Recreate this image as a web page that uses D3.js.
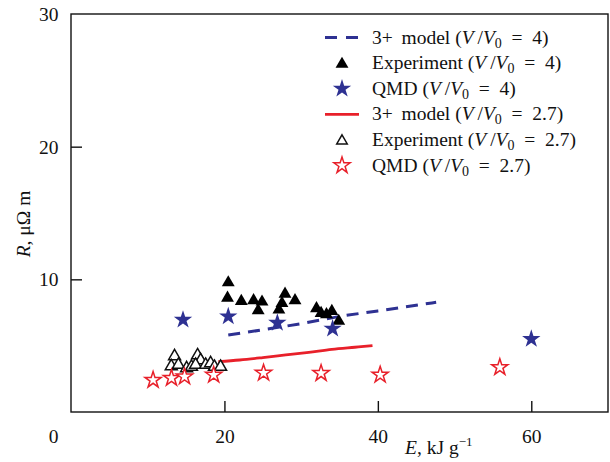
<!DOCTYPE html>
<html>
<head>
<meta charset="utf-8">
<script src="https://cdn.jsdelivr.net/npm/d3@7"></script>
<style>
  body { margin: 0; background: #fff; }
  text { font-family: "Liberation Serif", "Times New Roman", serif; font-size: 19.5px; fill: #111; }
</style>
</head>
<body>
<svg id="chart" width="610" height="462"></svg>
<script>
// --- data ---
var model4E = [20.5, 25, 30, 35, 40, 47.6];
var model4R = [5.8, 6.2, 6.66, 7.2, 7.62, 8.27];

var model27E = [19.2, 22, 25, 28, 31, 34, 37, 39.3];
var model27R = [3.8, 3.92, 4.1, 4.3, 4.5, 4.72, 4.88, 5.0];

var exp4E = [20.5, 20.4, 22.2, 23.8, 24.4, 24.9, 27.9, 27.5, 27.1, 29.2, 32.0, 32.6, 33.3, 34.0, 34.9];
var exp4R = [9.75, 8.6, 8.35, 8.4, 7.65, 8.3, 8.9, 8.2, 7.7, 8.4, 7.8, 7.45, 7.35, 7.6, 6.85];

var exp27E = [13.5, 13.07, 14.0, 15.07, 15.7, 16.5, 16.9, 16.24, 17.55, 18.2, 18.7, 19.5];
var exp27R = [4.2, 3.45, 3.55, 3.3, 3.4, 4.27, 3.9, 3.55, 3.55, 3.68, 3.4, 3.4];

var qmd4E = [14.6, 20.5, 26.9, 34.1, 60.0];
var qmd4R = [6.95, 7.2, 6.72, 6.28, 5.5];

var qmd27E = [10.7, 13.1, 14.8, 18.6, 25.1, 32.6, 40.3, 55.9];
var qmd27R = [2.41, 2.56, 2.66, 2.79, 2.94, 2.92, 2.8, 3.37];

var xTicks = [0, 20, 40, 60];
var yTicks = [10, 20, 30];

var blue = "#2e3192", red = "#e8202a";

var svg = d3.select("#chart");

var x = d3.scaleLinear().domain([0, 70]).range([71, 608]);
var y = d3.scaleLinear().domain([0, 30]).range([412, 14]);

function zip(a, b) { return a.map(function (v, i) { return [v, b[i]]; }); }

// frame
svg.append("rect")
    .attr("x", x(0)).attr("y", y(30))
    .attr("width", x(70) - x(0)).attr("height", y(0) - y(30))
    .attr("fill", "none").attr("stroke", "#111").attr("stroke-width", 1.4);

// x axis (ticks point inward)
var xAxis = svg.append("g")
    .attr("transform", "translate(0," + y(0) + ")")
    .call(d3.axisBottom(x).tickValues(xTicks).tickSize(-11).tickFormat(d3.format("d")));
xAxis.select(".domain").remove();
xAxis.selectAll(".tick line").attr("stroke", "#111").attr("stroke-width", 1.4)
    .filter(function (d) { return d === 0; }).remove();
xAxis.selectAll(".tick text")
    .attr("y", 0).attr("dy", 31)
    .style("font-size", "19.5px").style("font-family", "Liberation Serif").attr("fill", "#111")
    .attr("dx", function (d) { return d === 0 ? -18 : 0; });

// y axis
var yAxis = svg.append("g")
    .attr("transform", "translate(" + x(0) + ",0)")
    .call(d3.axisLeft(y).tickValues(yTicks).tickSize(-11).tickFormat(d3.format("d")));
yAxis.select(".domain").remove();
yAxis.selectAll(".tick line").attr("stroke", "#111").attr("stroke-width", 1.4)
    .filter(function (d) { return d === 30; }).remove();
yAxis.selectAll(".tick text")
    .attr("x", -12.5).attr("dy", "0.34em")
    .style("font-size", "19.5px").style("font-family", "Liberation Serif").attr("fill", "#111");

// axis titles
var yt = svg.append("text")
    .attr("transform", "translate(30,224) rotate(-90)")
    .attr("text-anchor", "middle");
yt.append("tspan").attr("font-style", "italic").text("R");
yt.append("tspan").text(", \u03bc\u03a9 m");

var xt = svg.append("text").attr("x", 405).attr("y", 454);
xt.append("tspan").attr("font-style", "italic").text("E");
xt.append("tspan").text(", kJ g");
xt.append("tspan").attr("dy", -8).style("font-size", "13px").text("\u22121");

// model curves
var line = d3.line().x(function (d) { return x(d[0]); }).y(function (d) { return y(d[1]); })
    .curve(d3.curveMonotoneX);

svg.append("path").datum(zip(model27E, model27R))
    .attr("d", line).attr("fill", "none").attr("stroke", red).attr("stroke-width", 2.8);

svg.append("path").datum(zip(model4E, model4R))
    .attr("d", line).attr("fill", "none").attr("stroke", blue).attr("stroke-width", 3)
    .attr("stroke-dasharray", "12,8");

// markers
var tri = d3.symbol().type(d3.symbolTriangle).size(72);
var triOpen = d3.symbol().type(d3.symbolTriangle).size(62);
var star = d3.symbol().type(d3.symbolStar).size(105);
var starOpen = d3.symbol().type(d3.symbolStar).size(82);

svg.append("g").selectAll("path").data(zip(exp27E, exp27R)).enter().append("path")
    .attr("d", triOpen)
    .attr("transform", function (d) { return "translate(" + x(d[0]) + "," + y(d[1]) + ")"; })
    .attr("fill", "#fff").attr("stroke", "#111").attr("stroke-width", 1.5);

svg.append("g").selectAll("path").data(zip(qmd27E, qmd27R)).enter().append("path")
    .attr("d", starOpen)
    .attr("transform", function (d) { return "translate(" + x(d[0]) + "," + y(d[1]) + ")"; })
    .attr("fill", "#fff").attr("stroke", red).attr("stroke-width", 1.5);

svg.append("g").selectAll("path").data(zip(exp4E, exp4R)).enter().append("path")
    .attr("d", tri)
    .attr("transform", function (d) { return "translate(" + x(d[0]) + "," + y(d[1]) + ")"; })
    .attr("fill", "#000");

svg.append("g").selectAll("path").data(zip(qmd4E, qmd4R)).enter().append("path")
    .attr("d", star)
    .attr("transform", function (d) { return "translate(" + x(d[0]) + "," + y(d[1]) + ")"; })
    .attr("fill", blue);

// legend
var legendNames = ["3+\u2009 model", "Experiment", "QMD", "3+\u2009 model", "Experiment", "QMD"];
var legendRatio = ["4", "4", "4", "2.7", "2.7", "2.7"];

var lg = svg.append("g");
legendNames.forEach(function (name, i) {
    var cy = 37.5 + i * 25.6;
    var g = lg.append("g");
    if (i === 0) {
        g.append("line").attr("x1", 325).attr("x2", 359).attr("y1", cy).attr("y2", cy)
            .attr("stroke", blue).attr("stroke-width", 3).attr("stroke-dasharray", "12,9");
    } else if (i === 3) {
        g.append("line").attr("x1", 325).attr("x2", 359).attr("y1", cy).attr("y2", cy)
            .attr("stroke", red).attr("stroke-width", 2.8);
    } else if (i === 1) {
        g.append("path").attr("d", tri).attr("transform", "translate(342," + (cy + 1) + ")").attr("fill", "#000");
    } else if (i === 2) {
        g.append("path").attr("d", star).attr("transform", "translate(342," + cy + ")").attr("fill", blue);
    } else if (i === 4) {
        g.append("path").attr("d", d3.symbol().type(d3.symbolTriangle).size(48))
            .attr("transform", "translate(342," + (cy + 1) + ")")
            .attr("fill", "#fff").attr("stroke", "#111").attr("stroke-width", 1.5);
    } else {
        g.append("path").attr("d", starOpen).attr("transform", "translate(342," + cy + ")")
            .attr("fill", "#fff").attr("stroke", red).attr("stroke-width", 1.5);
    }
    var t = g.append("text").attr("x", 372).attr("y", cy + 6);
    t.append("tspan").text(name + " (");
    t.append("tspan").attr("font-style", "italic").text("V");
    t.append("tspan").text("\u2009/");
    t.append("tspan").attr("font-style", "italic").text("V");
    t.append("tspan").attr("dy", 4).style("font-size", "14px").text("0");
    t.append("tspan").attr("dy", -4).text("\u2002=\u2002" + legendRatio[i] + ")");
});
</script>
</body>
</html>
